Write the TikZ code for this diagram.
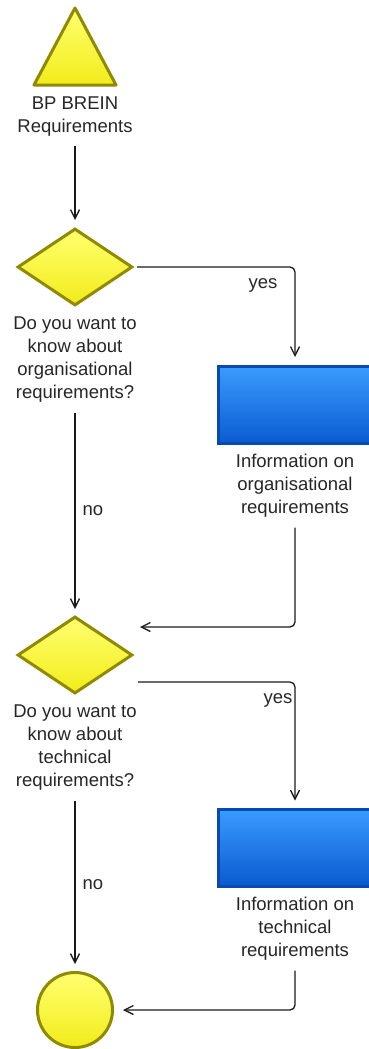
\documentclass[tikz,border=0pt]{standalone}
\usepackage{fontspec}
\setmainfont{Liberation Sans}
\usetikzlibrary{shapes.geometric,arrows.meta}
\definecolor{yfill}{HTML}{F2EC1A}
\definecolor{ylight}{HTML}{FFFF70}
\definecolor{yborder}{HTML}{8F8A00}
\definecolor{blight}{HTML}{3A9CFF}
\definecolor{bdark}{HTML}{0B5AD0}
\definecolor{bborder}{HTML}{0A4AB0}
\definecolor{lncol}{HTML}{1A1A1A}
\begin{document}
\begin{tikzpicture}[x=1pt,y=-1pt,
 lbl/.style={font=\fontsize{18.5}{23}\selectfont, align=center, inner sep=0, text=black!85, anchor=north},
 dec/.style={diamond, draw=yborder, line width=3pt, top color=ylight, bottom color=yfill, minimum width=115pt, minimum height=77pt, inner sep=0},
 func/.style={rectangle, draw=bborder, line width=3pt, top color=blight, bottom color=bdark, minimum width=153pt, minimum height=77pt, inner sep=0},
 evt/.style={circle, draw=yborder, line width=3pt, top color=ylight, bottom color=yfill, minimum size=75pt, inner sep=0},
 conn/.style={draw=lncol, line width=1.3pt, -{Straight Barb[length=9pt,width=9pt,line width=1.3pt]}, rounded corners=5pt},
 cl/.style={font=\fontsize{18.5}{20}\selectfont, inner sep=0, text=black!85}]
\useasboundingbox (0,0) rectangle (369,1049);
\clip (0,0) rectangle (369,1049);
% start event (triangle)
\draw[yborder, line width=3pt, line join=round, top color=ylight, bottom color=yfill]
  (75,8) -- (116,85) -- (34,85) -- cycle;
\node[lbl] (start) at (75,97) {BP BREIN\\Requirements};
% first decision
\node[dec] (d1) at (75,267) {};
\node[lbl] (q1) at (75,317) {Do you want to\\know about\\organisational\\requirements?};
% first function
\node[func] (f1) at (295,405) {};
\node[lbl] (t1) at (295,454) {Information on\\organisational\\requirements};
% second decision
\node[dec] (d2) at (75,655) {};
\node[lbl] (q2) at (75,705) {Do you want to\\know about\\technical\\requirements?};
% second function
\node[func] (f2) at (295,847.5) {};
\node[lbl] (t2) at (295,897) {Information on\\technical\\requirements};
% end event
\node[evt] (e) at (75,1010) {};
% helper coordinates
\coordinate (in2) at (140,627);
\coordinate (out2) at (138,682);
% connectors
\draw[conn, shorten <=9pt, shorten >=7pt] (start.south) -- (d1.north);
\draw[conn, shorten <=3pt, shorten >=8pt] (d1.east) -| (f1.north);
\node[cl] (y1) at (263,285) {yes};
\draw[conn, shorten <=10pt] (t1.south) |- (in2);
\draw[conn, shorten <=10pt, shorten >=6pt] (q1.south) -- (d2.north);
\node[cl] (n1) at (93,511) {no};
\draw[conn, shorten >=7pt] (out2) -| (f2.north);
\node[cl] (y2) at (278,700) {yes};
\draw[conn, shorten <=10pt, shorten >=7pt] (q2.south) -- (e.north);
\node[cl] (n2) at (93,885) {no};
\draw[conn, shorten <=10pt, shorten >=9pt] (t2.south) |- (e.east);
\end{tikzpicture}
\end{document}
